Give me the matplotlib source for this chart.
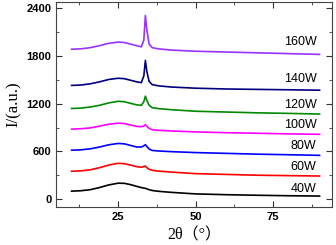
import matplotlib
matplotlib.use('Agg')
import matplotlib.pyplot as plt
from matplotlib.ticker import MultipleLocator

# 2theta sample points
two_theta = [10, 13, 16, 19, 22, 25, 27, 29, 31, 32.5, 33.3, 33.8, 34.3, 35, 36, 38, 42, 50, 60, 70, 80, 90]

w40 = [100, 105, 118, 145, 178, 200, 198, 182, 160, 145, 138, 135, 128, 118, 108, 98, 85, 65, 55, 48, 42, 38]
w60 = [350, 355, 368, 395, 428, 450, 445, 428, 408, 400, 410, 415, 395, 375, 362, 352, 340, 320, 310, 300, 295, 290]
w80 = [615, 620, 632, 655, 683, 700, 695, 675, 655, 655, 670, 685, 660, 630, 612, 605, 597, 585, 575, 565, 558, 550]
w100 = [880, 885, 895, 918, 942, 955, 950, 932, 915, 910, 920, 935, 915, 890, 872, 865, 857, 845, 835, 828, 820, 815]
w120 = [1140, 1145, 1158, 1180, 1210, 1230, 1225, 1205, 1185, 1180, 1225, 1295, 1240, 1180, 1150, 1138, 1125, 1105, 1095, 1085, 1078, 1070]
w140 = [1430, 1435, 1450, 1475, 1505, 1520, 1515, 1495, 1475, 1465, 1550, 1745, 1600, 1480, 1440, 1425, 1410, 1395, 1385, 1380, 1375, 1370]
w160 = [1885, 1890, 1905, 1930, 1960, 1975, 1970, 1950, 1930, 1915, 2000, 2310, 2120, 1950, 1905, 1890, 1875, 1860, 1850, 1840, 1830, 1820]

series = [w40, w60, w80, w100, w120, w140, w160]
labels = ['40W', '60W', '80W', '100W', '120W', '140W', '160W']
label_y = [126, 402, 666, 930, 1181, 1508, 1972]
colors = ['black', 'red', 'blue', '#ff00ff', '#008a00', '#00007f', '#9933ff']

fig = plt.figure(figsize=(3.36, 2.45), dpi=100)
ax = fig.add_axes([0.167, 0.155, 0.821, 0.837])

for ys, c, lab, ly in zip(series, colors, labels, label_y):
    ax.plot(two_theta, ys, color=c, lw=1.2)
    ax.text(89, ly, lab, ha='right', va='center', fontsize=9, family='Liberation Sans')

ax.set_xlim(5, 94)
ax.set_ylim(-100, 2480)
ax.xaxis.set_major_locator(MultipleLocator(25))
ax.xaxis.set_minor_locator(MultipleLocator(12.5))
ax.yaxis.set_major_locator(MultipleLocator(600))
ax.yaxis.set_minor_locator(MultipleLocator(300))
ax.tick_params(which='both', direction='in', top=True, right=True, colors='#333333')
ax.tick_params(which='major', length=4)
ax.tick_params(which='minor', length=2.5)
for lab in ax.get_xticklabels() + ax.get_yticklabels():
    lab.set_fontweight('bold')
    lab.set_fontsize(8)
    lab.set_family('Liberation Sans')
    lab.set_color('black')
for s in ax.spines.values():
    s.set_color('#444444')

ax.set_ylabel('I/(a.u.)', fontsize=12, family='Liberation Serif', labelpad=3)
ax.set_xlabel('2θ（°）', fontsize=11.5, family=['Liberation Serif', 'Noto Sans CJK SC'], labelpad=4)

fig.savefig('out.png', dpi=100)
